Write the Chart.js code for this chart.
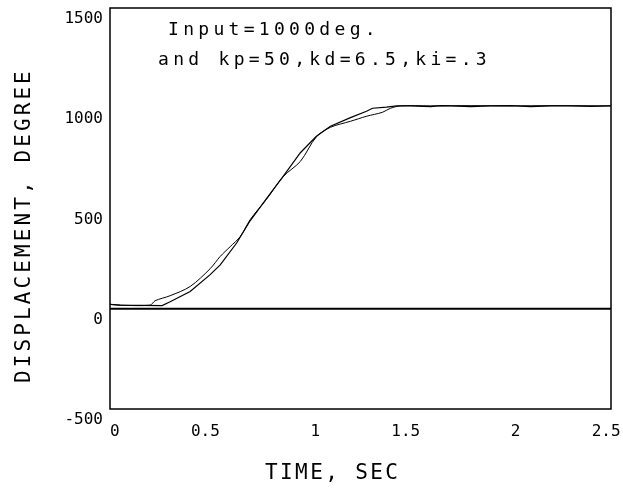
<!DOCTYPE html>
<html>
<head>
<meta charset="utf-8">
<script src="https://cdn.jsdelivr.net/npm/chart.js@4"></script>
<style>
  body { margin: 0; background: #fff; }
</style>
</head>
<body>
<canvas id="plot" width="623" height="489"></canvas>
<script>
// reference response (rises first)
const timeA = [0, 0.05, 0.2, 0.225, 0.3, 0.4, 0.5, 0.55, 0.6, 0.65, 0.7, 0.78, 0.865, 0.95, 1.03, 1.1, 1.2, 1.28, 1.36, 1.4, 1.45, 1.6, 1.8, 2.0, 2.2, 2.5];
const dispA = [22, 18, 18, 40, 65, 111, 200, 261, 310, 360, 445, 545, 660, 735, 858, 905, 935, 960, 980, 1000, 1012, 1012, 1013, 1012, 1013, 1012];

// measured response
const timeB = [0, 0.05, 0.26, 0.3, 0.4, 0.5, 0.55, 0.632, 0.7, 0.78, 0.865, 0.95, 1.03, 1.1, 1.2, 1.28, 1.31, 1.38, 1.43, 1.5, 1.6, 1.65, 1.7, 1.8, 1.9, 2.0, 2.1, 2.2, 2.3, 2.4, 2.5];
const dispB = [22, 18, 16, 35, 86, 170, 219, 328, 440, 548, 662, 778, 860, 910, 953, 985, 1000, 1006, 1012, 1012, 1008, 1013, 1012, 1008, 1012, 1013, 1008, 1012, 1012, 1009, 1012];

const zeroTime = [0, 2.5];
const zeroDisp = [0, 0];

const xTicks = [0, 0.5, 1, 1.5, 2, 2.5];
const xTickLabels = [' 0', '0.5 ', ' 1', '1.5 ', ' 2', '2.5 '];
const yTicks = [-500, 0, 500, 1000, 1500];
const yTickLabels = ['-500', '0', '500', '1000', '1500'];

const notes = ['Input=1000deg.', 'and kp=50,kd=6.5,ki=.3'];
const xTitle = 'TIME, SEC';
const yTitle = 'DISPLACEMENT, DEGREE';

const pts = (xs, ys) => xs.map((x, i) => ({ x: x, y: ys[i] }));
const mono = 'DejaVu Sans Mono';

const frame = {
  id: 'frame',
  afterDraw(chart) {
    const ctx = chart.ctx;
    const a = chart.chartArea;
    ctx.save();
    ctx.strokeStyle = '#000';
    ctx.lineWidth = 1.5;
    ctx.strokeRect(a.left, a.top, a.right - a.left, a.bottom - a.top);

    ctx.fillStyle = '#000';
    ctx.textAlign = 'left';
    ctx.textBaseline = 'alphabetic';

    ctx.font = '18px "' + mono + '"';
    ctx.letterSpacing = '4.3px';
    ctx.fillText(notes[0], 168, 35);
    ctx.fillText(notes[1], 158, 65);

    ctx.font = '21px "' + mono + '"';
    ctx.letterSpacing = '2.4px';
    ctx.fillText(xTitle, 265, 479);

    ctx.translate(30, 383);
    ctx.rotate(-Math.PI / 2);
    ctx.letterSpacing = '3.1px';
    ctx.fillText(yTitle, 0, 0);
    ctx.restore();
  }
};

new Chart(document.getElementById('plot'), {
  type: 'line',
  data: {
    datasets: [
      { data: pts(zeroTime, zeroDisp), borderColor: '#000', borderWidth: 2, pointRadius: 0 },
      { data: pts(timeA, dispA), borderColor: '#000', borderWidth: 1, pointRadius: 0, tension: 0.3 },
      { data: pts(timeB, dispB), borderColor: '#000', borderWidth: 1.2, pointRadius: 0, tension: 0 }
    ]
  },
  options: {
    responsive: false,
    animation: false,
    layout: { padding: { top: 8, right: 12, left: 0, bottom: 0 } },
    plugins: { legend: { display: false }, tooltip: { enabled: false } },
    scales: {
      x: {
        type: 'linear', min: 0, max: 2.5,
        afterBuildTicks: s => { s.ticks = xTicks.map(v => ({ value: v })); },
        ticks: {
          color: '#000', padding: 13, font: { family: mono, size: 16 },
          callback: (v, i) => xTickLabels[i]
        },
        grid: { display: false, drawTicks: false },
        border: { display: false },
        afterFit: s => { s.height = 80; s.paddingLeft = 0; s.paddingRight = 0; }
      },
      y: {
        type: 'linear', min: -500, max: 1500,
        afterBuildTicks: s => { s.ticks = yTicks.map(v => ({ value: v })); },
        ticks: {
          color: '#000', padding: 7, labelOffset: 11, font: { family: mono, size: 16 },
          callback: (v, i) => yTickLabels[i]
        },
        grid: { display: false, drawTicks: false },
        border: { display: false },
        afterFit: s => { s.width = 110; s.paddingTop = 0; s.paddingBottom = 0; }
      }
    }
  },
  plugins: [frame]
});
</script>
</body>
</html>
